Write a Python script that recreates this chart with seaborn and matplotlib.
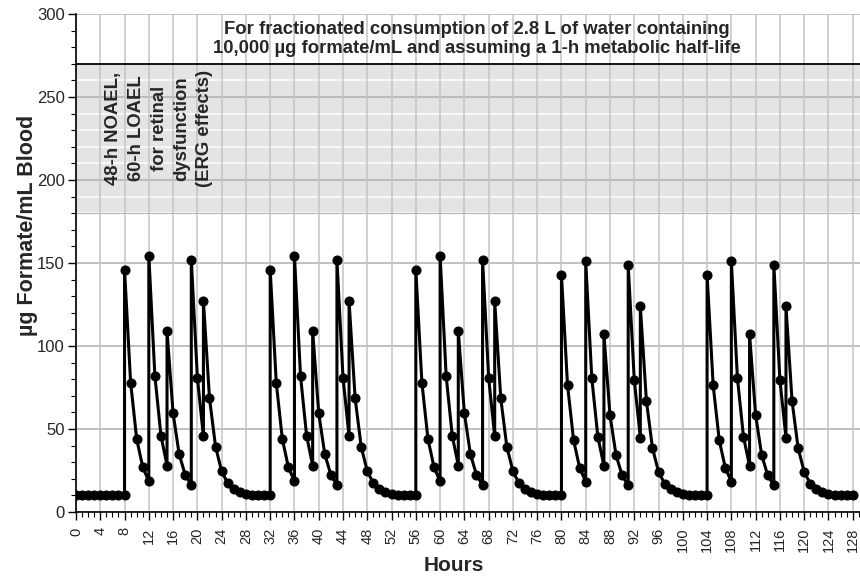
import pandas as pd
import numpy as np
import matplotlib
matplotlib.use('Agg')
import matplotlib.pyplot as plt
import seaborn as sns
from matplotlib.ticker import MultipleLocator

# hourly blood formate (ug/mL), doses give a second point at the same hour
base_hours = [0, 1, 2, 3, 4, 5, 6, 7]
base_conc = [10, 10, 10, 10, 10, 10, 10, 10]

day1_hours = [8, 8, 9, 10, 11, 12, 12, 13, 14, 15, 15, 16, 17, 18, 19, 19, 20, 21, 21,
              22, 23, 24, 25, 26, 27, 28, 29, 30, 31]
day1_conc = [10, 146, 78, 44, 27, 18.5, 154.5, 82, 46, 28, 109, 59.5, 34.8, 22.4, 16.2, 152,
             81, 45.5, 127, 68.5, 39.3, 24.6, 17.3, 13.7, 11.8, 10.9, 10.5, 10.2, 10.1]

day2_hours = [32, 32, 33, 34, 35, 36, 36, 37, 38, 39, 39, 40, 41, 42, 43, 43, 44, 45, 45,
              46, 47, 48, 49, 50, 51, 52, 53, 54, 55]
day2_conc = [10, 146, 78, 44, 27, 18.5, 154.5, 82, 46, 28, 109, 59.5, 34.8, 22.4, 16.2, 152,
             81, 45.5, 127, 68.5, 39.3, 24.6, 17.3, 13.7, 11.8, 10.9, 10.5, 10.2, 10.1]

day3_hours = [56, 56, 57, 58, 59, 60, 60, 61, 62, 63, 63, 64, 65, 66, 67, 67, 68, 69, 69,
              70, 71, 72, 73, 74, 75, 76, 77, 78, 79]
day3_conc = [10, 146, 78, 44, 27, 18.5, 154.5, 82, 46, 28, 109, 59.5, 34.8, 22.4, 16.2, 152,
             81, 45.5, 127, 68.5, 39.3, 24.6, 17.3, 13.7, 11.8, 10.9, 10.5, 10.2, 10.1]

day4_hours = [80, 80, 81, 82, 83, 84, 84, 85, 86, 87, 87, 88, 89, 90, 91, 91, 92, 93, 93,
              94, 95, 96, 97, 98, 99, 100, 101, 102, 103]
day4_conc = [10, 143, 76.5, 43.3, 26.6, 18.3, 151, 80.6, 45.3, 27.7, 107, 58.3, 34.2, 22.1, 16,
             149, 79.5, 44.8, 124, 67, 38.5, 24.2, 17.1, 13.6, 11.8, 10.9, 10.4, 10.2, 10.1]

day5_hours = [104, 104, 105, 106, 107, 108, 108, 109, 110, 111, 111, 112, 113, 114, 115, 115,
              116, 117, 117, 118, 119, 120, 121, 122, 123, 124, 125, 126, 127, 128]
day5_conc = [10, 143, 76.5, 43.3, 26.6, 18.3, 151, 80.6, 45.3, 27.7, 107, 58.3, 34.2, 22.1, 16,
             149, 79.5, 44.8, 124, 67, 38.5, 24.2, 17.1, 13.6, 11.8, 10.9, 10.4, 10.2, 10.1, 10]

x_ticks = list(range(0, 129, 4))
y_ticks = [0, 50, 100, 150, 200, 250, 300]

band_low, band_high = 180, 270
note_text = "48-h NOAEL,\n60-h LOAEL\nfor retinal\ndysfunction\n(ERG effects)"
title_text = ("For fractionated consumption of 2.8 L of water containing\n"
              "10,000 \u00b5g formate/mL and assuming a 1-h metabolic half-life")

df = pd.DataFrame({
    'hours': base_hours + day1_hours + day2_hours + day3_hours + day4_hours + day5_hours,
    'conc': base_conc + day1_conc + day2_conc + day3_conc + day4_conc + day5_conc,
})

sns.set_theme(style='white')
plt.rcParams['font.family'] = ['Liberation Sans', 'DejaVu Sans']

fig = plt.figure(figsize=(8.6, 5.79), dpi=100)
ax = fig.add_axes([76 / 860, 1 - 512 / 579, (860 - 76) / 860, 498 / 579])

ax.axhspan(band_low, band_high, color='#e4e4e4', zorder=0, lw=0)
ax.axhline(band_high, color='black', lw=1.3, zorder=1)
ax.axhline(band_low, color='#b5b5b5', lw=0.8, zorder=1)

sns.lineplot(data=df, x='hours', y='conc', sort=False, estimator=None, ax=ax,
             color='black', lw=2.2, marker='o', markersize=6.5,
             markeredgecolor='black', markerfacecolor='black', zorder=3)

ax.set_xlim(0, 129.2)
ax.set_ylim(0, 300)
ax.set_xticks(x_ticks)
ax.set_yticks(y_ticks)
ax.xaxis.set_minor_locator(MultipleLocator(1))
ax.yaxis.set_minor_locator(MultipleLocator(10))

ax.set_axisbelow(True)
ax.grid(True, which='major', axis='y', color='#b0b0b0', lw=1.1)
ax.grid(True, which='minor', axis='y', color='white', lw=1.1)
ax.grid(True, which='major', axis='x', color='#c4c4c4', lw=1.1)
# vertical lines sit on top of the white minor lines
ax.yaxis.set_zorder(0.4)
ax.xaxis.set_zorder(0.6)

for s in ['top', 'right']:
    ax.spines[s].set_visible(False)
for s in ['left', 'bottom']:
    ax.spines[s].set_color('black')
    ax.spines[s].set_linewidth(1.2)
    ax.spines[s].set_zorder(2)

ax.tick_params(axis='both', which='major', direction='out', length=6, width=1,
               color='black', bottom=True, left=True)
ax.tick_params(axis='both', which='minor', direction='out', length=3.5, width=0.8,
               color='black', bottom=True, left=True)
ax.tick_params(axis='x', labelsize=10.5, labelrotation=90, pad=5)
ax.tick_params(axis='y', labelsize=12, pad=2)

ax.set_xlabel('Hours', fontsize=15, fontweight='bold')
ax.set_ylabel('\u00b5g Formate/mL Blood', fontsize=15.5, fontweight='bold')
ax.xaxis.set_label_coords(0.482, -0.088)
ax.yaxis.set_label_coords(-0.048, 0.576)

ax.text(13.7, 231, note_text, rotation=90, ha='center', va='center',
        multialignment='center', fontsize=13.3, fontweight='bold', linespacing=1.43,
        zorder=4)
ax.text(66, 285, title_text, ha='center', va='center', fontsize=13.3,
        fontweight='bold', linespacing=1.1, zorder=4)

plt.savefig('out.png', dpi=100)
